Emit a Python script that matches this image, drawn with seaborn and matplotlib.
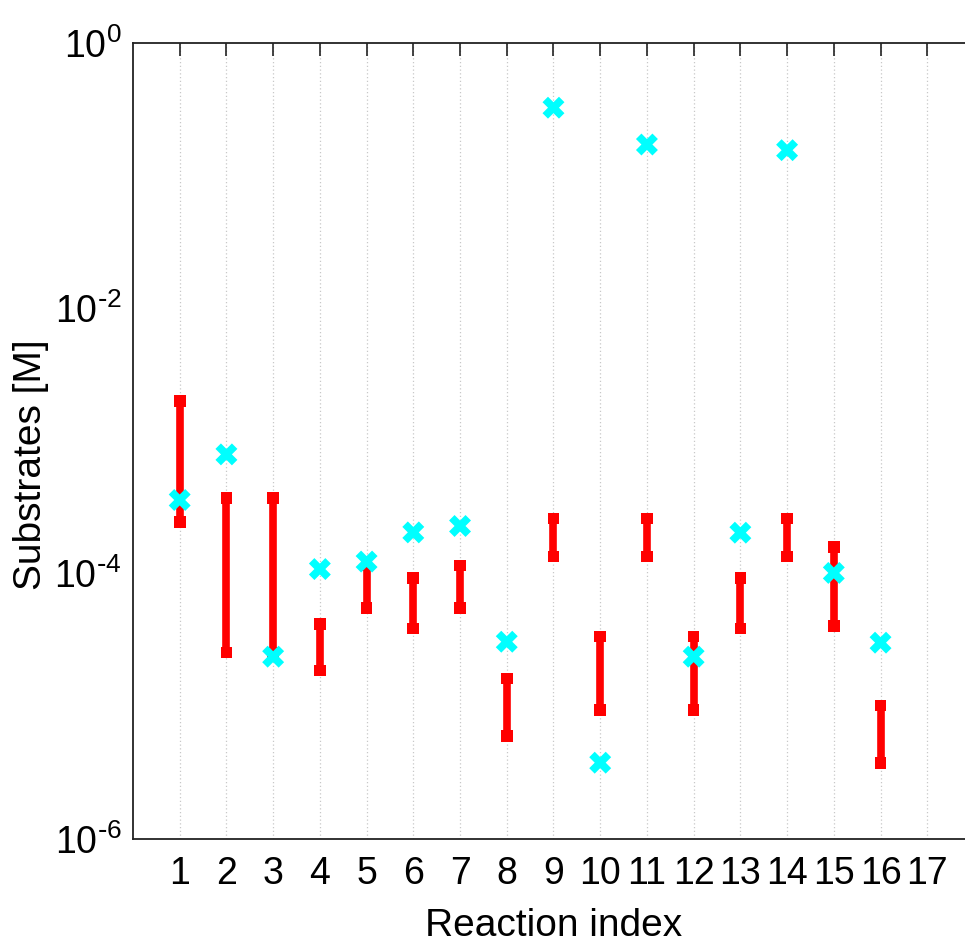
import matplotlib
matplotlib.use("Agg")
import matplotlib.pyplot as plt
import numpy as np
import pandas as pd
import seaborn as sns
from matplotlib.ticker import FixedLocator, NullLocator

# reaction indices with data
reactions = list(range(1, 17))

# red bars: lower / upper substrate bounds [M]
lower = [2.45e-4, 2.53e-5, 2.53e-5, 1.86e-5, 5.47e-5, 3.86e-5, 5.47e-5, 5.96e-6,
         1.34e-4, 9.36e-6, 1.34e-4, 9.36e-6, 3.86e-5, 1.34e-4, 4.02e-5, 3.71e-6]
upper = [2.0e-3, 3.69e-4, 3.69e-4, 4.14e-5, 1.15e-4, 9.2e-5, 1.15e-4, 1.62e-5,
         2.6e-4, 3.34e-5, 2.6e-4, 3.34e-5, 9.2e-5, 2.6e-4, 1.59e-4, 1.01e-5]

# cyan markers: measured substrate concentrations [M]
measured = [3.58e-4, 7.9e-4, 2.36e-5, 1.08e-4, 1.23e-4, 2.04e-4, 2.28e-4, 3.06e-5,
            0.324, 3.75e-6, 0.171, 2.36e-5, 2.03e-4, 0.155, 1.01e-4, 3.01e-5]

tick_positions = list(range(1, 18))
ytick_values = [1e-6, 1e-4, 1e-2, 1e0]
ytick_labels = [r"$10^{\text{-}6}$", r"$10^{\text{-}4}$", r"$10^{\text{-}2}$", r"$10^{0}$"]

sns.set_style("white")
plt.rcParams["font.family"] = ["Liberation Sans", "DejaVu Sans"]
plt.rcParams["mathtext.default"] = "regular"
plt.rcParams["text.color"] = "black"
plt.rcParams["axes.labelcolor"] = "black"
plt.rcParams["xtick.color"] = "black"
plt.rcParams["ytick.color"] = "black"

df = pd.DataFrame({"reaction": reactions, "lower": lower, "upper": upper, "measured": measured})

fig = plt.figure(figsize=(9.65, 9.5), dpi=100)
ax = fig.add_axes([0.1378, 0.117, 0.8715, 0.838])

ax.set_yscale("log")

# bounds as thick red bars with square ends
ax.vlines(df["reaction"], df["lower"], df["upper"], color="red", linewidth=5.5, zorder=3)
ends = pd.concat([
    df[["reaction", "lower"]].rename(columns={"lower": "value"}),
    df[["reaction", "upper"]].rename(columns={"upper": "value"}),
])
sns.scatterplot(data=ends, x="reaction", y="value", ax=ax, marker="s", s=70,
                color="red", edgecolor="none", zorder=4, legend=False)

sns.scatterplot(data=df, x="reaction", y="measured", ax=ax, marker="X", s=250,
                color="#00ffff", edgecolor="none", zorder=5, legend=False)

ax.set_xlim(0, 18)
ax.set_ylim(1e-6, 1)
ax.xaxis.set_major_locator(FixedLocator(tick_positions))
ax.xaxis.set_minor_locator(NullLocator())
ax.yaxis.set_major_locator(FixedLocator(ytick_values))
ax.yaxis.set_minor_locator(NullLocator())
ax.set_yticklabels(ytick_labels)

ax.grid(axis="x", color="#c8c8c8", linestyle=(0, (1, 2)), linewidth=0.9)
ax.grid(axis="y", visible=False)

ax.tick_params(axis="both", direction="in", length=9, width=1.2, labelsize=27,
               top=True, right=False, color="#222222")
ax.tick_params(axis="x", pad=12)
ax.tick_params(axis="y", pad=8)
for spine in ax.spines.values():
    spine.set_color("#222222")
    spine.set_linewidth(1.3)

ax.set_xlabel("Reaction index", fontsize=28, labelpad=12)
ax.set_ylabel("Substrates [M]", fontsize=28)
ax.yaxis.set_label_coords(-0.1, 0.47)

fig.savefig("out.png", dpi=100)
